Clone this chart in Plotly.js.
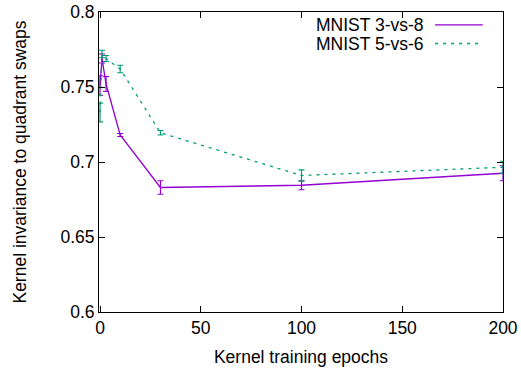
<!DOCTYPE html>
<html>
<head>
<meta charset="utf-8">
<script src="https://cdn.plot.ly/plotly-3.0.1.min.js"></script>
<style>html,body{margin:0;padding:0;background:#fff;}#chart{width:521px;height:371px;}</style>
</head>
<body>
<div id="chart"></div>
<script>
const epochs = [0, 1, 3, 10, 30, 100, 200];
const mnist38 = [0.751, 0.769, 0.752, 0.718, 0.683, 0.6845, 0.6925];
const mnist38Err = [0.0065, 0.003, 0.005, 0.001, 0.0045, 0.003, 0.005];
const mnist56 = [0.733, 0.772, 0.769, 0.762, 0.7195, 0.691, 0.6965];
const mnist56Err = [0.0063, 0.0025, 0.002, 0.0025, 0.0015, 0.0037, 0.004];
const seriesNames = ['MNIST 3-vs-8', 'MNIST 5-vs-6'];
const xTicks = [0, 50, 100, 150, 200];
const yTicks = [0.6, 0.65, 0.7, 0.75, 0.8];
const yTickText = ['0.6', '0.65', '0.7', '0.75', '0.8'];

const purple = '#9400D3';
const green = '#009E73';
const font = 'Liberation Sans, Arial, sans-serif';
const fs = 17.5;

const traces = [
  {x: epochs, y: mnist38, type: 'scatter', mode: 'lines', name: seriesNames[0],
   line: {color: purple, width: 1.3},
   error_y: {type: 'data', array: mnist38Err, visible: true, color: purple, thickness: 1.2, width: 3},
   showlegend: false},
  {x: epochs, y: mnist56, type: 'scatter', mode: 'lines', name: seriesNames[1],
   line: {color: green, width: 1.3, dash: '3px,5px'},
   error_y: {type: 'data', array: mnist56Err, visible: true, color: green, thickness: 1.2, width: 3},
   showlegend: false}
];

const axisCommon = {
  showline: true, linecolor: '#000', linewidth: 1, mirror: 'allticks',
  ticks: 'inside', ticklen: 6, tickcolor: '#000', tickwidth: 1,
  showgrid: false, zeroline: false,
  tickfont: {family: font, size: fs, color: '#000'}
};

const layout = {
  width: 521, height: 371,
  margin: {l: 99, r: 18, t: 12, b: 59},
  paper_bgcolor: '#fff', plot_bgcolor: '#fff',
  font: {family: font, size: fs, color: '#000'},
  xaxis: Object.assign({}, axisCommon, {
    range: [-0.5, 200], tickvals: xTicks, ticktext: xTicks.map(String),
    title: {text: 'Kernel training epochs', font: {family: font, size: fs, color: '#000'}, standoff: 13}
  }),
  yaxis: Object.assign({}, axisCommon, {
    range: [0.6, 0.8], tickvals: yTicks, ticktext: yTickText,
    title: {text: 'Kernel invariance to quadrant swaps', font: {family: font, size: fs, color: '#000'}, standoff: 29}
  }),
  annotations: [
    {xref: 'paper', yref: 'paper', x: 0.806, y: 0.958, xanchor: 'right', yanchor: 'middle', height: 18, borderpad: 0,
     text: seriesNames[0], showarrow: false, font: {family: font, size: fs, color: '#000'}},
    {xref: 'paper', yref: 'paper', x: 0.806, y: 0.894, xanchor: 'right', yanchor: 'middle', height: 18, borderpad: 0,
     text: seriesNames[1], showarrow: false, font: {family: font, size: fs, color: '#000'}}
  ],
  shapes: [
    {type: 'line', xref: 'paper', yref: 'paper', x0: 0.832, x1: 0.950, y0: 0.957, y1: 0.957,
     line: {color: purple, width: 1.3}},
    {type: 'line', xref: 'paper', yref: 'paper', x0: 0.832, x1: 0.950, y0: 0.895, y1: 0.895,
     line: {color: green, width: 1.3, dash: '3px,5px'}}
  ]
};

Plotly.newPlot('chart', traces, layout, {displayModeBar: false, staticPlot: true});
</script>
</body>
</html>
